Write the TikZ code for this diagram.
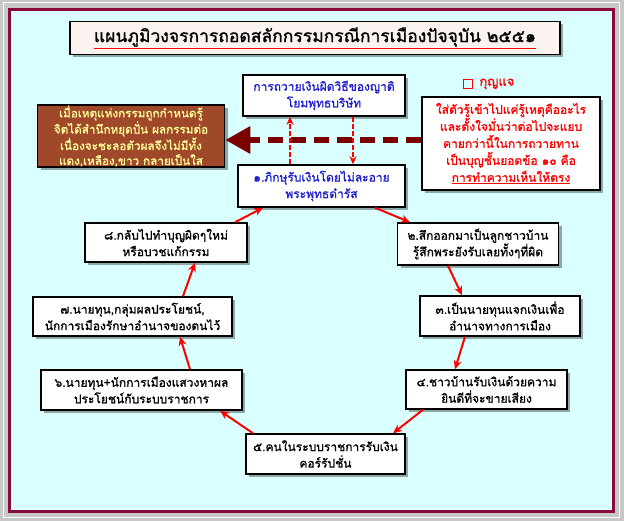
\documentclass[tikz,border=0pt]{standalone}
\usepackage{fontspec}
\newfontfamily\thaifont[Script=Thai, FakeBold=1.2]{Loma}
\usetikzlibrary{
    arrows.meta,
    positioning,
    shadows
}
\definecolor{framegray}{HTML}{C8C8C8}
\definecolor{maroonline}{HTML}{8B0A3C}
\definecolor{palecyan}{HTML}{D9FFFF}
\definecolor{karmabrown}{HTML}{A0482A}
\definecolor{paleyellow}{HTML}{FFFF99}
\definecolor{deepred}{HTML}{7A0000}
\definecolor{textblue}{HTML}{2020D0}
\definecolor{titlefill}{HTML}{FBF3F0}

\begin{document}
\begin{tikzpicture}[
        x=1pt, y=-1pt,
        >=Stealth,
        box/.style={
            draw,
            line width=1.5pt,
            fill=white,
            align=center,
            inner sep=0pt,
            font=\thaifont\fontsize{12}{16.5}\selectfont,
            drop shadow={shadow xshift=3pt, shadow yshift=-3pt, fill=black, opacity=0.35}
        },
        flow/.style={
            -{Stealth[length=9pt,width=8pt]},
            red,
            line width=2pt
        },
        dashflow/.style={
            -{Stealth[length=8pt,width=7pt]},
            red,
            line width=1.5pt,
            dash pattern=on 5pt off 2pt
        }
    ]
        % frame
        \useasboundingbox (0,0) rectangle (624,521);
        \fill[framegray] (0,0) rectangle (624,521);
        \draw[white, line width=1pt] (3,3) rectangle (619,517);
        \fill[palecyan] (9,9) rectangle (614,512);
        \draw[maroonline, line width=3.5pt] (9.5,9.5) rectangle (613.5,511.5);

        % title
        \node[box, fill=titlefill, minimum width=490pt, minimum height=33pt,
            font=\thaifont\fontsize{17.5}{22}\selectfont] (title) at (315,38)
            {{\color{red}\underline{\textcolor{black}{แผนภูมิวงจรการถอดสลักกรรมกรณีการเมืองปัจจุบัน ๒๕๕๑}}}};

        % cycle
        \node[box, text=textblue, minimum width=162pt, minimum height=41pt] (gift) at (324,95.5)
            {การถวายเงินผิดวิธีของญาติ\\โยมพุทธบริษัท};
        \node[box, text=textblue, minimum width=167pt, minimum height=42pt] (b1) at (321.5,186)
            {๑.ภิกษุรับเงินโดยไม่ละอาย\\พระพุทธดำรัส};
        \node[box, minimum width=161pt, minimum height=42pt] (b2) at (478,244)
            {๒.สึกออกมาเป็นลูกชาวบ้าน\\รู้สึกพระยังรับเลยทั้งๆที่ผิด};
        \node[box, minimum width=160pt, minimum height=40pt] (b3) at (500,316)
            {๓.เป็นนายทุนแจกเงินเพื่อ\\อำนาจทางการเมือง};
        \node[box, minimum width=161pt, minimum height=39pt] (b4) at (486.5,389.5)
            {๔.ชาวบ้านรับเงินด้วยความ\\ยินดีที่จะขายเสียง};
        \node[box, minimum width=159pt, minimum height=40pt] (b5) at (325.5,454)
            {๕.คนในระบบราชการรับเงิน\\คอร์รัปชั่น};
        \node[box, minimum width=201pt, minimum height=40pt] (b6) at (141.5,390)
            {๖.นายทุน+นักการเมืองแสวงหาผล\\ประโยชน์กับระบบราชการ};
        \node[box, minimum width=199pt, minimum height=39pt] (b7) at (132.5,316.5)
            {๗.นายทุน,กลุ่มผลประโยชน์,\\นักการเมืองรักษาอำนาจของตนไว้};
        \node[box, minimum width=162pt, minimum height=39pt] (b8) at (166,242.5)
            {๘.กลับไปทำบุญผิดๆใหม่\\หรือบวชแก้กรรม};

        % result and key
        \node[box, fill=karmabrown, text=paleyellow, minimum width=187pt, minimum height=62pt,
            font=\thaifont\fontsize{11.7}{15}\selectfont] (karma) at (131,136)
            {เมื่อเหตุแห่งกรรมถูกกำหนดรู้\\จิตได้สำนึกหยุดปั่น ผลกรรมต่อ\\เนื่องจะชะลอตัวผลจึงไม่มีทั้ง\\แดง,เหลือง,ขาว กลายเป็นใส};
        \node[box, text=red, minimum width=178pt, minimum height=93pt,
            font=\thaifont\fontsize{12}{17}\selectfont] (keybox) at (511,143.5)
            {ใส่ตัวรู้เข้าไปแค่รู้เหตุคืออะไร\\และตั้งใจมั่นว่าต่อไปจะแยบ\\คายกว่านี้ในการถวายทาน\\เป็นบุญชั้นยอดข้อ ๑๐ คือ\\\underline{การทำความเห็นให้ตรง}};
        \node[draw=red, line width=1.5pt, minimum size=9pt, inner sep=0pt] (keysq) at (468,84) {};
        \node[right=6pt of keysq, text=red, inner sep=0pt,
            font=\thaifont\fontsize{13}{15}\selectfont] (keylabel) {กุญแจ};

        % connectors
        \draw[dashflow] ([xshift=-31.5pt]b1.north) -- ([xshift=-34pt]gift.south);
        \draw[dashflow] ([xshift=29pt]gift.south) -- ([xshift=31.5pt]b1.north);
        \draw[flow] ([xshift=53.5pt]b1.south) -- ([xshift=-68pt]b2.north);
        \draw[flow] ([xshift=-30pt]b2.south) -- ([xshift=-38pt]b3.north);
        \draw[flow] ([xshift=-35pt]b3.south) -- ([xshift=-31.5pt]b4.north);
        \draw[flow] ([xshift=-63.5pt]b4.south) -- ([xshift=67.5pt]b5.north);
        \draw[flow] ([xshift=-72.5pt]b5.north) -- ([xshift=78.5pt]b6.south);
        \draw[flow] ([xshift=48.5pt]b6.north) -- ([xshift=47.5pt]b7.south);
        \draw[flow] ([xshift=50.5pt]b7.north) -- ([xshift=29pt]b8.south);
        \draw[flow] ([xshift=69pt]b8.north) -- ([xshift=-58.5pt]b1.south);
        \draw[deepred, line width=6pt, dash pattern=on 15pt off 8pt,
            -{Triangle[length=25pt,width=26pt]}]
            ([yshift=3.5pt]keybox.west) -- ([yshift=3.5pt]keybox.west -| karma.east);
    \end{tikzpicture}
\end{document}
